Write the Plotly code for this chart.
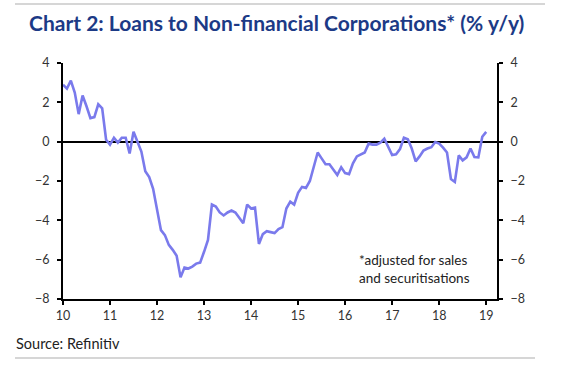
import plotly.graph_objects as go

start_year = 10
values = [
    2.9, 2.7, 3.1, 2.5, 1.4, 2.35, 1.8, 1.2, 1.25, 1.9, 1.7, 0.1,
    -0.15, 0.2, -0.05, 0.2, 0.2, -0.6, 0.5, 0.0, -0.5, -1.5, -1.8, -2.4,
    -3.4, -4.5, -4.75, -5.25, -5.5, -5.8, -6.9, -6.4, -6.45, -6.35, -6.2, -6.15,
    -5.6, -5.0, -3.2, -3.3, -3.6, -3.75, -3.6, -3.5, -3.6, -3.9, -4.15, -3.2,
    -3.4, -3.35, -5.2, -4.7, -4.55, -4.6, -4.65, -4.45, -4.35, -3.4, -3.05, -3.2,
    -2.6, -2.3, -2.35, -2.0, -1.2, -0.55, -0.85, -1.15, -1.15, -1.45, -1.7, -1.3,
    -1.6, -1.65, -1.1, -0.75, -0.65, -0.55, -0.1, -0.15, -0.15, -0.05, 0.15, -0.25,
    -0.68, -0.64, -0.38, 0.2, 0.12, -0.35, -1.0, -0.75, -0.45, -0.35, -0.28, -0.02,
    -0.1, -0.3, -0.55, -1.9, -2.05, -0.7, -0.95, -0.8, -0.35, -0.78, -0.8, 0.25,
    0.5,
]
x_dates = [start_year + i / 12 for i in range(len(values))]
x_ticks = list(range(10, 20))
x_ticklabels = [str(t) for t in x_ticks]
y_ticks = [4, 2, 0, -2, -4, -6, -8]

title_text = "Chart 2: Loans to Non-financial Corporations* (% y/y)"
note_text = "*adjusted for sales<br>and securitisations"
source_text = "Source: Refinitiv"

FONT = "Lato"
W, H = 571, 368
L, R, T, B = 63, 74, 63, 69
PW, PH = W - L - R, H - T - B


def px(x):
    return (x - L) / PW


def py(y):
    return (H - B - y) / PH


fig = go.Figure()
fig.add_trace(go.Scatter(x=x_dates, y=values, mode="lines",
                         line=dict(color="#7A7AEC", width=2.6), yaxis="y",
                         hoverinfo="skip"))
fig.add_trace(go.Scatter(x=x_dates, y=values, mode="lines",
                         line=dict(color="rgba(0,0,0,0)", width=0), yaxis="y2",
                         hoverinfo="skip"))

axis_common = dict(range=[-8, 4], tickvals=y_ticks, ticks="outside", ticklen=4,
                   tickwidth=2, tickcolor="black", showline=True, linecolor="black",
                   linewidth=2, showgrid=False, ticklabelstandoff=5,
                   tickfont=dict(family=FONT, size=12.5, color="#333333"))

fig.update_layout(
    width=W, height=H,
    margin=dict(l=L, r=R, t=T, b=B),
    paper_bgcolor="white", plot_bgcolor="white",
    showlegend=False,
    xaxis=dict(range=[10, 19.23], tickvals=x_ticks, ticktext=x_ticklabels,
               ticks="outside", ticklen=4, tickwidth=2, tickcolor="black",
               showline=True, linecolor="black", linewidth=2, showgrid=False,
               zeroline=False,
               tickfont=dict(family=FONT, size=12.5, color="#333333")),
    yaxis=dict(**axis_common, side="left", zeroline=True, zerolinecolor="black",
               zerolinewidth=2),
    yaxis2=dict(**axis_common, side="right", overlaying="y", zeroline=False),
    annotations=[
        dict(text="<b>" + title_text + "</b>", x=px(27), y=py(22),
             xref="paper", yref="paper", xanchor="left", yanchor="middle",
             showarrow=False, font=dict(family=FONT, size=21, color="#1C3A86")),
        dict(text=note_text, x=px(357), y=py(250), xref="paper", yref="paper",
             xanchor="left", yanchor="top", align="left", showarrow=False,
             font=dict(family=FONT, size=13.5, color="#222222")),
        dict(text=source_text, x=px(14), y=py(343), xref="paper", yref="paper",
             xanchor="left", yanchor="middle", showarrow=False,
             font=dict(family=FONT, size=14.5, color="#222222")),
    ],
)

fig.add_shape(type="line", xref="paper", yref="paper",
              x0=px(15), x1=px(545), y0=py(4), y1=py(4),
              line=dict(color="#C8C8C8", width=1.5))
fig.add_shape(type="line", xref="paper", yref="paper",
              x0=px(15), x1=px(535), y0=py(358), y1=py(358),
              line=dict(color="#C8C8C8", width=1.5))

fig.write_html("out.html", config={"displayModeBar": False},
               post_script="document.body.style.margin='0';")
